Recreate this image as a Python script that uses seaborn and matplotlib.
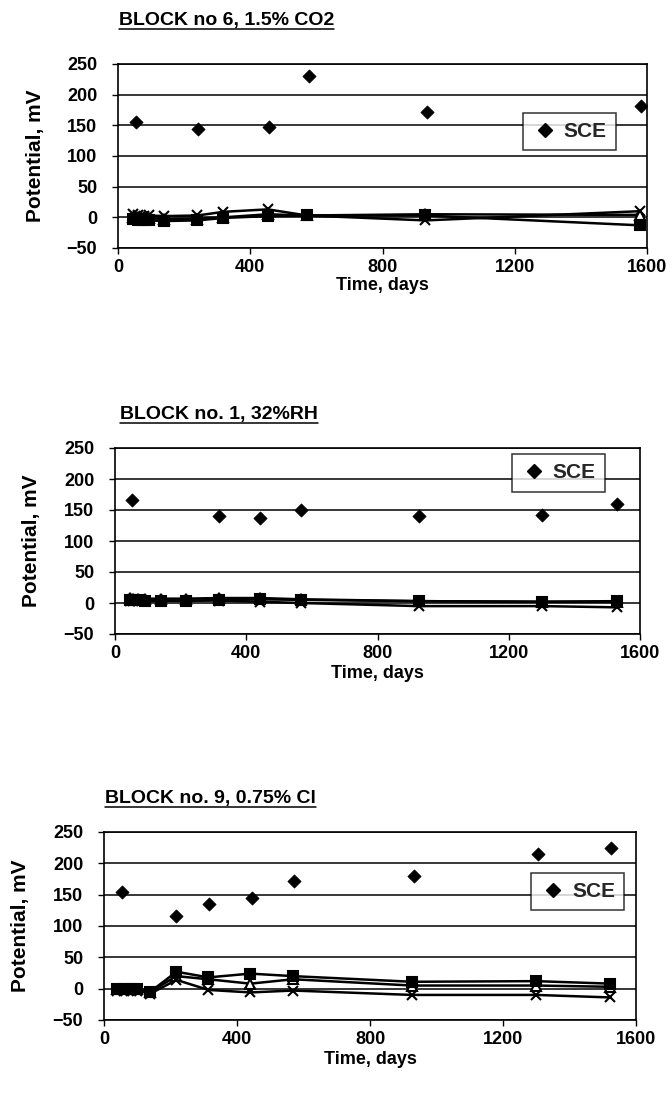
import numpy as np
import pandas as pd
import matplotlib
matplotlib.use("Agg")
import matplotlib.pyplot as plt
import seaborn as sns
from matplotlib.lines import Line2D

# ---- Panel 1: BLOCK no 6, 1.5% CO2 ----
p1_title = "BLOCK no 6, 1.5% CO2"
p1_sce_days = [53, 243, 457, 577, 934, 1581]
p1_sce_mv = [156, 144, 148, 231, 171, 181]
p1_days = [45, 60, 78, 95, 140, 240, 319, 453, 571, 929, 1578]
p1_sq = [-3, -4, -5, -5, -6, -5, -1, 2, 3, 3, -13]
p1_tri = [0, 0, 0, -1, -3, -2, 0, 5, 3, 5, 4]
p1_x = [5, 3, 2, 3, 2, 3, 9, 13, 3, -5, 10]

# ---- Panel 2: BLOCK no. 1, 32%RH ----
p2_title = "BLOCK no. 1, 32%RH"
p2_sce_days = [51, 317, 443, 567, 925, 1302, 1530]
p2_sce_mv = [166, 141, 137, 150, 141, 142, 160]
p2_days = [45, 55, 70, 90, 140, 215, 317, 443, 567, 925, 1302, 1530]
p2_sq = [5, 5, 5, 4, 4, 3, 5, 6, 5, 3, 2, 3]
p2_tri = [8, 7, 7, 7, 7, 7, 8, 8, 6, 3, 2, 2]
p2_x = [3, 3, 3, 3, 3, 4, 4, 2, 0, -5, -5, -7]

# ---- Panel 3: BLOCK no. 9, 0.75% Cl ----
p3_title = "BLOCK no. 9, 0.75% Cl"
p3_sce_days = [53, 218, 316, 446, 571, 931, 1305, 1525]
p3_sce_mv = [155, 116, 135, 144, 172, 180, 215, 224]
p3_days = [40, 60, 80, 100, 139, 218, 314, 440, 569, 926, 1300, 1523]
p3_sq = [0, 0, 0, 0, -5, 27, 18, 24, 20, 11, 12, 8]
p3_tri = [0, 0, 0, 0, -5, 20, 15, 8, 15, 5, 5, 3]
p3_x = [-3, -3, -3, -3, -8, 14, -2, -6, -3, -10, -10, -14]

y_ticks = [-50, 0, 50, 100, 150, 200, 250]
x_ticks = [0, 400, 800, 1200, 1600]
legend_label = "SCE"

sns.set_theme(style="white")
plt.rcParams['font.family'] = ['Liberation Sans', 'DejaVu Sans']
plt.rcParams['font.weight'] = 'bold'

W, H = 672, 1106
fig = plt.figure(figsize=(W / 100, H / 100), dpi=100)


def fx(px):
    return px / W


def fy(py):
    return 1 - py / H


layout = [
    dict(box=(118, 64, 647, 248), title_xy=(119, 20), leg_center=(1365, 140), xlab_y=286),
    dict(box=(115, 448, 640, 634), title_xy=(120, 414), leg_center=(1352, 210), xlab_y=674),
    dict(box=(104, 832, 636, 1020), title_xy=(105, 798), leg_center=(1425, 155), xlab_y=1060),
]
panels = [
    dict(title=p1_title, sd=p1_sce_days, sv=p1_sce_mv, d=p1_days, sq=p1_sq, tri=p1_tri, x=p1_x),
    dict(title=p2_title, sd=p2_sce_days, sv=p2_sce_mv, d=p2_days, sq=p2_sq, tri=p2_tri, x=p2_x),
    dict(title=p3_title, sd=p3_sce_days, sv=p3_sce_mv, d=p3_days, sq=p3_sq, tri=p3_tri, x=p3_x),
]

styles = {"sq": dict(marker="s", mfc="black"),
          "tri": dict(marker="^", mfc="white"),
          "x": dict(marker="x", mfc="black")}

titles = []
for p, lay in zip(panels, layout):
    x0, y0, x1, y1 = lay["box"]
    ax = fig.add_axes([fx(x0), fy(y1), (x1 - x0) / W, (y1 - y0) / H])
    n = len(p["d"])
    df = pd.DataFrame({
        "day": p["d"] * 3,
        "mv": p["sq"] + p["tri"] + p["x"],
        "series": ["sq"] * n + ["tri"] * n + ["x"] * n,
    })
    for s in ["tri", "sq", "x"]:
        g = df[df["series"] == s]
        sns.lineplot(data=g, x="day", y="mv", ax=ax, color="black", lw=1.8,
                     marker=styles[s]["marker"], markersize=6.5,
                     markerfacecolor=styles[s]["mfc"], markeredgecolor="black",
                     markeredgewidth=1.5, legend=False, zorder=3)
    sce = pd.DataFrame({"day": p["sd"], "mv": p["sv"]})
    sns.scatterplot(data=sce, x="day", y="mv", ax=ax, marker="D", s=45, color="black",
                    edgecolor="black", legend=False, zorder=4)
    ax.set_xlim(0, 1600)
    ax.set_ylim(-50, 250)
    ax.set_xticks(x_ticks)
    ax.set_yticks(y_ticks)
    ax.yaxis.grid(True, color="black", lw=1.1)
    ax.xaxis.grid(False)
    for sp in ax.spines.values():
        sp.set_color("black")
        sp.set_linewidth(1.2)
        sp.set_visible(True)
    ax.tick_params(axis="both", labelsize=13, colors="black", length=4, width=1,
                   direction="out", bottom=True, left=True)
    ax.tick_params(axis="y", pad=11)
    ax.tick_params(axis="x", pad=4)
    for lab in ax.get_xticklabels() + ax.get_yticklabels():
        lab.set_fontweight("bold")
    ax.set_xlabel("Time, days", fontsize=13, fontweight="bold", color="black")
    ax.set_ylabel("Potential, mV", fontsize=15, fontweight="bold", color="black")
    ax.yaxis.set_label_coords(fx(x0 - 83), fy((y0 + y1) / 2), transform=fig.transFigure)
    ax.xaxis.set_label_coords(fx((x0 + x1) / 2), fy(lay["xlab_y"]), transform=fig.transFigure)
    ax.xaxis.label.set_verticalalignment("center")
    ax.yaxis.label.set_verticalalignment("center")

    h = Line2D([], [], marker="D", color="black", ls="none", markersize=7)
    leg = ax.legend([h], [legend_label], loc="center", fontsize=15, frameon=True,
                    fancybox=False, edgecolor="black", handletextpad=0.3,
                    handlelength=1.2, borderpad=0.45,
                    bbox_to_anchor=lay["leg_center"], bbox_transform=ax.transData)
    leg.get_frame().set_linewidth(1.1)
    leg.set_zorder(5)
    for t in leg.get_texts():
        t.set_fontweight("bold")

    tx, ty = lay["title_xy"]
    t = fig.text(fx(tx), fy(ty), p["title"], fontsize=14, fontweight="bold",
                 ha="left", va="center", color="black")
    titles.append(t)

fig.canvas.draw()
r = fig.canvas.get_renderer()
for t in titles:
    bb = t.get_window_extent(renderer=r).transformed(fig.transFigure.inverted())
    fig.add_artist(Line2D([bb.x0, bb.x1], [bb.y0, bb.y0],
                          transform=fig.transFigure, color="black", lw=1.1))

fig.savefig("out.png", dpi=100, facecolor="white")
